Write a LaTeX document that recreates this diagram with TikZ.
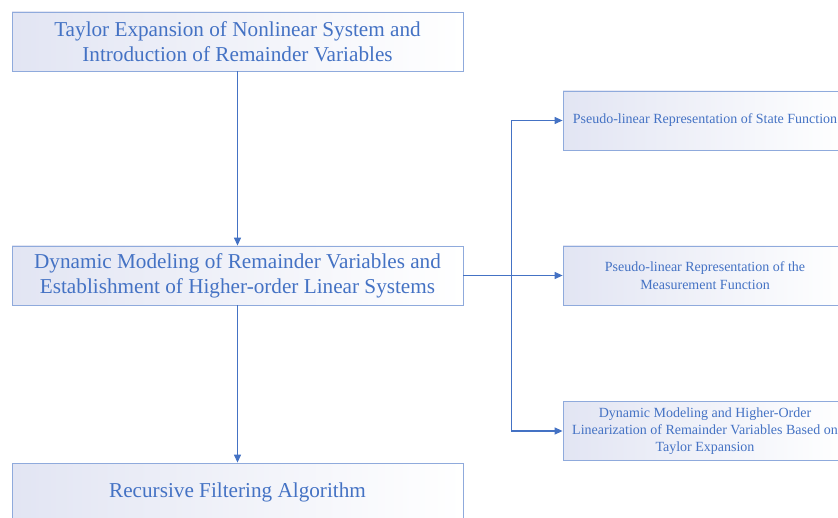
\documentclass[tikz,border=0pt]{standalone}
\usepackage{fontspec}
\setmainfont{Liberation Serif}
\usetikzlibrary{arrows.meta,positioning}

\definecolor{flowblue}{HTML}{4472C4}
\definecolor{boxline}{HTML}{8FAADC}
\definecolor{boxtint}{HTML}{E2E5F3}

\tikzset{
  bigbox/.style={draw=boxline, line width=0.8pt, left color=boxtint, right color=white,
    minimum width=451, minimum height=59, inner sep=0pt, align=center,
    text=flowblue, font=\fontsize{21.2}{25}\selectfont},
  sidebox/.style={bigbox, minimum width=284, font=\fontsize{14}{17.3}\selectfont},
  flow/.style={draw=flowblue, line width=1.2pt, -{Triangle[length=8pt,width=7pt]}}
}

\begin{document}
\begin{tikzpicture}[x=1pt,y=-1pt]
% canvas of the reference
\useasboundingbox (0,0) rectangle (838,518);

% main column
\node[bigbox] (taylor) at (237.5,41.5) {Taylor Expansion of Nonlinear System and\\Introduction of Remainder Variables};
\node[bigbox] (model) at (237.5,275.5) {Dynamic Modeling of Remainder Variables and\\Establishment of Higher-order Linear Systems};
\node[bigbox] (filter) at (237.5,492.5) {Recursive Filtering Algorithm};

% side branch
\node[sidebox] (state) at (705,120.5) {Pseudo-linear Representation of State Function};
\node[sidebox] (meas) at (705,275.5) {Pseudo-linear Representation of the\\Measurement Function};
\node[sidebox] (remain) at (705,431) {Dynamic Modeling and Higher-Order\\Linearization of Remainder Variables Based on\\Taylor Expansion};

% connectors
\draw[flow] (taylor) -- (model);
\draw[flow] (model) -- (filter);
\draw[flow] (model) -- (meas);
\coordinate (split) at (511.5,275.5);
\draw[flow] (split) |- (state);
\draw[flow] (split) |- (remain);

\end{tikzpicture}
\end{document}
